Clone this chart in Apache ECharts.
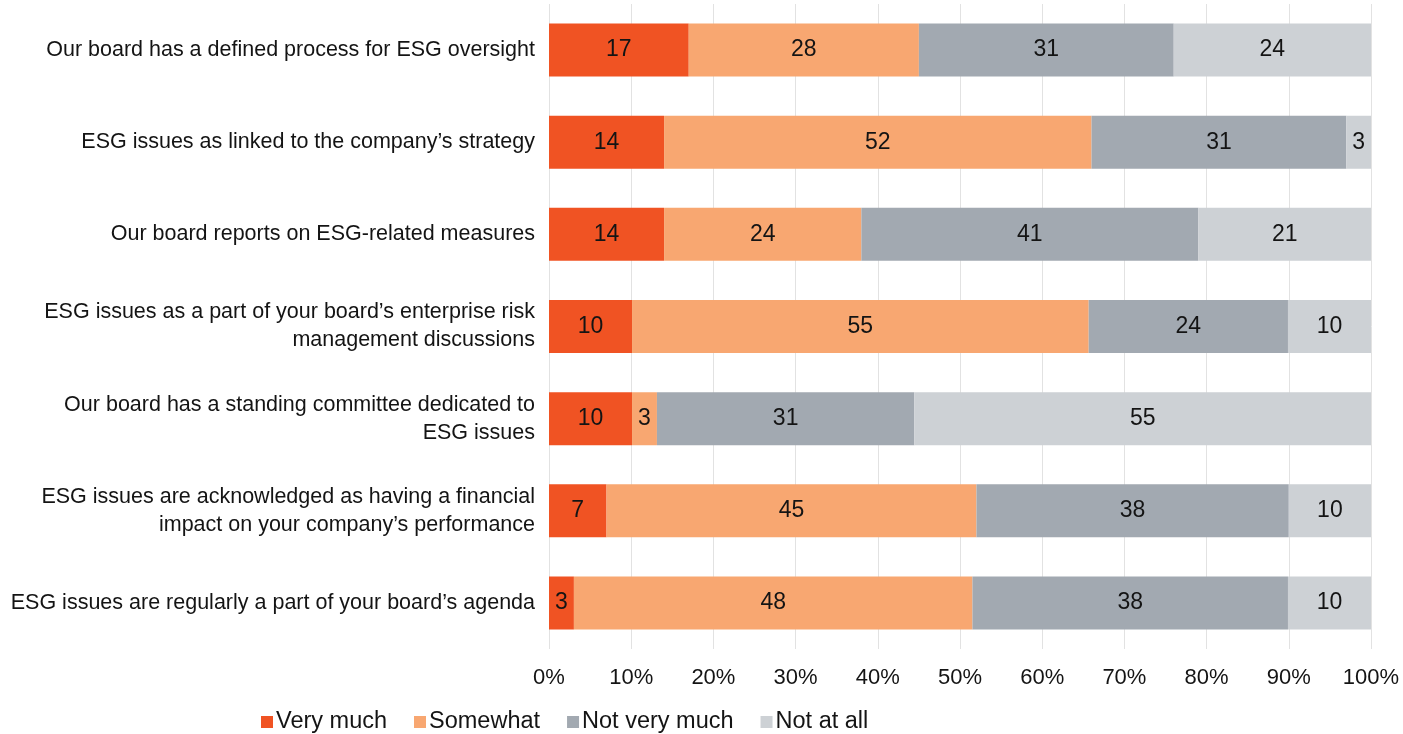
<!DOCTYPE html>
<html><head><meta charset="utf-8">
<script src="https://cdn.jsdelivr.net/npm/echarts@6/dist/echarts.min.js"></script>
<style>html,body{margin:0;padding:0;background:#fff}#c{width:1403px;height:734px}</style>
</head><body><div id="c"></div>
<script>
const categories = [
  "Our board has a defined process for ESG oversight",
  "ESG issues as linked to the company’s strategy",
  "Our board reports on ESG-related measures",
  "ESG issues as a part of your board’s enterprise risk\nmanagement discussions",
  "Our board has a standing committee dedicated to\nESG issues",
  "ESG issues are acknowledged as having a financial\nimpact on your company’s performance",
  "ESG issues are regularly a part of your board’s agenda"
];
const seriesNames = ["Very much", "Somewhat", "Not very much", "Not at all"];
const veryMuch   = [17, 14, 14, 10, 10, 7, 3];
const somewhat   = [28, 52, 24, 55, 3, 45, 48];
const notVery    = [31, 31, 41, 24, 31, 38, 38];
const notAtAll   = [24, 3, 21, 10, 55, 10, 10];
const tickLabels = ["0%","10%","20%","30%","40%","50%","60%","70%","80%","90%","100%"];
const colors = ["#F05323", "#F8A771", "#A2A9B1", "#CDD1D5"];

const raw = [veryMuch, somewhat, notVery, notAtAll];
const totals = categories.map((_, i) => raw.reduce((s, a) => s + a[i], 0));
const font = "'Liberation Sans', Arial, Helvetica, sans-serif";
const txt = '#141414';

const chart = echarts.init(document.getElementById('c'));
chart.setOption({
  animation: false,
  textStyle: { fontFamily: font },
  color: colors,
  grid: { left: 549, right: 32, top: 4, bottom: 85, containLabel: false },
  legend: {
    data: seriesNames,
    left: 256, top: 705,
    itemWidth: 12, itemHeight: 12, itemGap: 27,
    icon: 'rect',
    textStyle: { fontSize: 23.5, color: txt, fontFamily: font, padding: [0,0,0,-2] }
  },
  xAxis: {
    type: 'value', min: 0, max: 100, interval: 10,
    axisLine: { show: false }, axisTick: { show: false },
    splitLine: { lineStyle: { color: '#e2e2e2', width: 1 } },
    axisLabel: { formatter: (v) => tickLabels[Math.round(v / 10)], fontSize: 22, color: txt, margin: 18 }
  },
  yAxis: {
    type: 'category', data: categories, inverse: true,
    axisLine: { show: false }, axisTick: { show: false },
    axisLabel: { fontSize: 21.5, color: txt, margin: 14, lineHeight: 28, align: 'right' }
  },
  series: seriesNames.map((name, k) => ({
    name, type: 'bar', stack: 'total', barWidth: 53,
    data: raw[k].map((v, i) => ({ value: v / totals[i] * 100, raw: v })),
    label: {
      show: true, position: 'inside', fontSize: 23, color: txt,
      formatter: (p) => String(raw[k][p.dataIndex])
    },
    itemStyle: { color: colors[k] }
  }))
});
</script></body></html>
